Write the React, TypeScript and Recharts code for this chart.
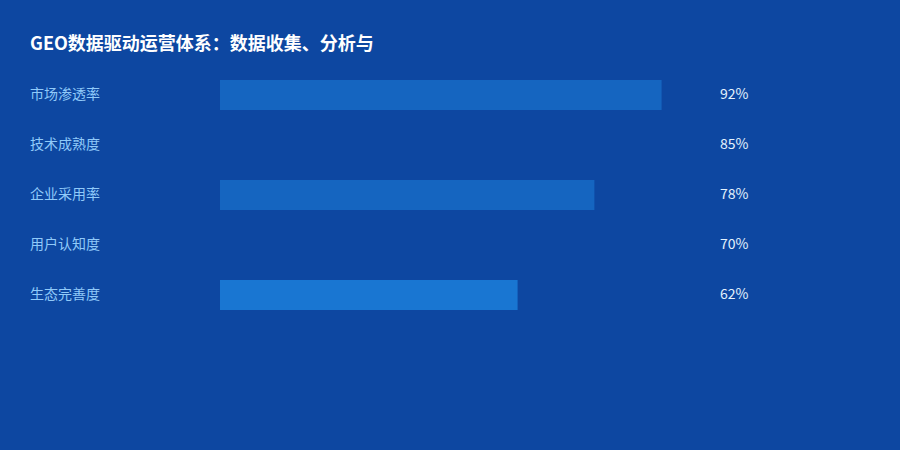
import { BarChart, Bar, XAxis, YAxis, Cell } from "recharts";

const categories = ["市场渗透率", "技术成熟度", "企业采用率", "用户认知度", "生态完善度"];
const values = [92, 85, 78, 70, 62];
const barColors = ["#1565c0", "#0d47a1", "#1565c0", "#0d47a1", "#1976d2"];

const data = categories.map((name, i) => ({ name, value: values[i] }));

const CategoryTick = (props: any) => {
  const { y, payload } = props;
  return (
    <text x={30} y={y} dy={4} textAnchor="start" fill="#90caf9" fontSize={14}>
      {payload.value}
    </text>
  );
};

const ValueTick = (props: any) => {
  const { x, y, payload } = props;
  return (
    <text x={x} y={y} dx={12} dy={4} textAnchor="start" fill="#e3f2fd" fontSize={14}>
      {payload.value}%
    </text>
  );
};

export default function App() {
  return (
    <div
      style={{
        position: "absolute",
        left: 0,
        top: 0,
        width: 900,
        height: 450,
        background: "#0d47a1",
        fontFamily: '"Noto Sans CJK SC", "Noto Sans", sans-serif',
      }}
    >
      <div
        style={{
          position: "absolute",
          left: 30,
          top: 30,
          color: "#ffffff",
          fontSize: 18,
          fontWeight: 700,
          lineHeight: "24px",
        }}
      >
        GEO数据驱动运营体系：数据收集、分析与
      </div>
      <BarChart
        width={900}
        height={450}
        data={data}
        layout="vertical"
        margin={{ top: 70, right: 0, bottom: 130, left: 30 }}
        barCategoryGap={10}
      >
        <XAxis type="number" domain={[0, 100]} hide />
        <YAxis
          yAxisId="left"
          type="category"
          dataKey="name"
          width={190}
          axisLine={false}
          tickLine={false}
          tick={<CategoryTick />}
        />
        <YAxis
          yAxisId="right"
          orientation="right"
          type="category"
          dataKey="value"
          width={200}
          axisLine={false}
          tickLine={false}
          tick={<ValueTick />}
        />
        <Bar yAxisId="left" dataKey="value" barSize={30} isAnimationActive={false}>
          {data.map((d, i) => (
            <Cell key={d.name} fill={barColors[i]} />
          ))}
        </Bar>
      </BarChart>
    </div>
  );
}
